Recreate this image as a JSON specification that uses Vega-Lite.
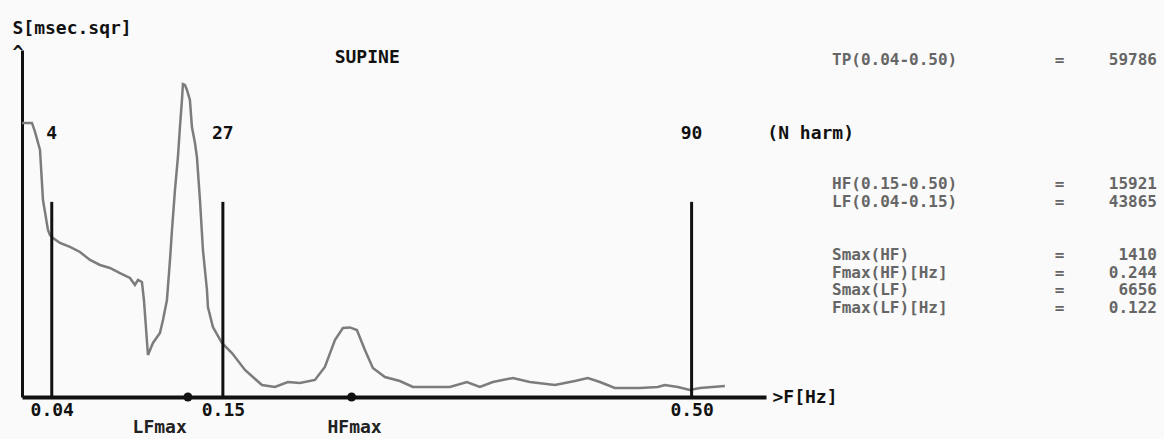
{
  "$schema": "https://vega.github.io/schema/vega-lite/v6.json",
  "width": 744,
  "height": 347,
  "autosize": {"type": "none"},
  "padding": {"left": 22, "top": 50, "right": 398, "bottom": 42},
  "background": "#fafafa",
  "config": {
    "view": {"stroke": null},
    "text": {"font": "DejaVu Sans Mono", "fontSize": 18, "fontWeight": "bold", "baseline": "middle"}
  },
  "layer": [
    {
      "layer": [
        {
          "data": {"values": [
            {"N": 0, "S": 5828}, {"N": 1.34, "S": 5828}, {"N": 1.75, "S": 5637}, {"N": 2.42, "S": 5254},
            {"N": 2.82, "S": 4190}, {"N": 3.49, "S": 3552}, {"N": 3.76, "S": 3446}, {"N": 4.17, "S": 3382},
            {"N": 5.11, "S": 3276}, {"N": 6.45, "S": 3191}, {"N": 7.79, "S": 3084}, {"N": 9.14, "S": 2914},
            {"N": 10.48, "S": 2808}, {"N": 11.82, "S": 2744}, {"N": 13.17, "S": 2637}, {"N": 14.51, "S": 2531},
            {"N": 15.18, "S": 2382}, {"N": 15.59, "S": 2489}, {"N": 16.12, "S": 2446}, {"N": 16.39, "S": 2063},
            {"N": 16.93, "S": 893}, {"N": 17.6, "S": 1149}, {"N": 18.54, "S": 1361}, {"N": 18.95, "S": 1638},
            {"N": 19.48, "S": 2063}, {"N": 19.89, "S": 2914}, {"N": 20.16, "S": 3552}, {"N": 20.56, "S": 4403},
            {"N": 20.96, "S": 5105}, {"N": 21.23, "S": 5743}, {"N": 21.5, "S": 6317}, {"N": 21.63, "S": 6656},
            {"N": 21.9, "S": 6636}, {"N": 22.17, "S": 6530}, {"N": 22.57, "S": 6317}, {"N": 22.84, "S": 5743},
            {"N": 23.25, "S": 5403}, {"N": 23.51, "S": 5105}, {"N": 23.92, "S": 4190}, {"N": 24.32, "S": 3127},
            {"N": 24.86, "S": 2276}, {"N": 24.99, "S": 1914}, {"N": 25.66, "S": 1489}, {"N": 26.87, "S": 1149},
            {"N": 28.22, "S": 936}, {"N": 29.97, "S": 574}, {"N": 32.25, "S": 255}, {"N": 33.99, "S": 213},
            {"N": 35.74, "S": 319}, {"N": 37.35, "S": 298}, {"N": 39.37, "S": 362}, {"N": 40.71, "S": 638},
            {"N": 42.06, "S": 1212}, {"N": 43.13, "S": 1468}, {"N": 44.07, "S": 1480}, {"N": 45.01, "S": 1425},
            {"N": 46.09, "S": 1000}, {"N": 47.16, "S": 617}, {"N": 48.78, "S": 425}, {"N": 50.79, "S": 340},
            {"N": 52.54, "S": 213}, {"N": 57.51, "S": 213}, {"N": 59.8, "S": 319}, {"N": 61.54, "S": 213},
            {"N": 63.29, "S": 319}, {"N": 65.98, "S": 404}, {"N": 68.26, "S": 319}, {"N": 71.63, "S": 255},
            {"N": 74.31, "S": 340}, {"N": 76.06, "S": 404}, {"N": 77.67, "S": 319}, {"N": 79.68, "S": 191},
            {"N": 83.04, "S": 191}, {"N": 85.46, "S": 213}, {"N": 86.4, "S": 255}, {"N": 88.15, "S": 213},
            {"N": 89.76, "S": 149}, {"N": 91.11, "S": 191}, {"N": 94.47, "S": 234}
          ]},
          "mark": {"type": "line", "color": "#7c7c7c", "strokeWidth": 2.5, "interpolate": "linear"},
          "encoding": {
            "x": {
              "field": "N", "type": "quantitative",
              "scale": {"domain": [0, 100], "nice": false, "zero": false},
              "axis": {
                "title": ">F[Hz]", "values": [4, 27, 90],
                "labelExpr": "datum.value == 4 ? '0.04' : datum.value == 27 ? '0.15' : '0.50'",
                "ticks": false, "grid": false, "domainColor": "#111", "domainWidth": 4,
                "labelFont": "DejaVu Sans Mono", "labelFontSize": 18, "labelFontWeight": "bold", "labelColor": "#111",
                "labelBaseline": "middle", "labelPadding": 13, "labelFlush": false, "labelOverlap": false,
                "titleFont": "DejaVu Sans Mono", "titleFontSize": 18, "titleFontWeight": "bold", "titleColor": "#111",
                "titleX": 750, "titleY": 0, "titleAlign": "left", "titleBaseline": "middle"
              }
            },
            "y": {
              "field": "S", "type": "quantitative",
              "scale": {"domain": [0, 7380], "nice": false},
              "axis": {
                "title": ["S[msec.sqr]", "^"], "ticks": false, "labels": false, "grid": false,
                "domainColor": "#111", "domainWidth": 3,
                "titleFont": "DejaVu Sans Mono", "titleFontSize": 18, "titleFontWeight": "bold", "titleColor": "#111",
                "titleAngle": 0, "titleAlign": "left", "titleBaseline": "middle",
                "titleX": -10, "titleY": -22, "titleLineHeight": 24
              }
            }
          }
        },
        {
          "data": {"values": [{"N": 4, "harm": "4"}, {"N": 27, "harm": "27"}, {"N": 90, "harm": "90"}]},
          "layer": [
            {
              "mark": {"type": "rule", "color": "#111", "strokeWidth": 3},
              "encoding": {
                "x": {"field": "N", "type": "quantitative"},
                "y": {"datum": 0, "type": "quantitative"},
                "y2": {"datum": 4150}
              }
            },
            {
              "mark": {"type": "text", "color": "#111", "align": "center"},
              "encoding": {
                "x": {"field": "N", "type": "quantitative"},
                "y": {"datum": 5590, "type": "quantitative"},
                "text": {"field": "harm"}
              }
            }
          ]
        },
        {
          "data": {"values": [{"N": 22.3, "peak": "LF"}, {"N": 44.3, "peak": "HF"}]},
          "mark": {"type": "point", "filled": true, "color": "#111", "size": 80, "opacity": 1},
          "encoding": {
            "x": {"field": "N", "type": "quantitative"},
            "y": {"datum": 0, "type": "quantitative"}
          }
        },
        {
          "data": {"values": [{"N": 18.5, "name": "LFmax"}, {"N": 44.7, "name": "HFmax"}]},
          "mark": {"type": "text", "color": "#222", "align": "center"},
          "encoding": {
            "x": {"field": "N", "type": "quantitative"},
            "y": {"datum": -660, "type": "quantitative"},
            "text": {"field": "name"}
          }
        },
        {
          "data": {"values": [{"note": "(N harm)"}]},
          "mark": {"type": "text", "color": "#111", "align": "center"},
          "encoding": {
            "x": {"datum": 106, "type": "quantitative"},
            "y": {"datum": 5590, "type": "quantitative"},
            "text": {"field": "note"}
          }
        },
        {
          "data": {"values": [{"position": "SUPINE"}]},
          "mark": {"type": "text", "color": "#111", "align": "center"},
          "encoding": {
            "x": {"datum": 46.4, "type": "quantitative"},
            "y": {"datum": 7210, "type": "quantitative"},
            "text": {"field": "position"}
          }
        }
      ]
    },
    {
      "data": {"values": [
        {"line": 0, "label": "TP(0.04-0.50)", "value": "59786"},
        {"line": 7, "label": "HF(0.15-0.50)", "value": "15921"},
        {"line": 8, "label": "LF(0.04-0.15)", "value": "43865"},
        {"line": 11, "label": "Smax(HF)", "value": "1410"},
        {"line": 12, "label": "Fmax(HF)[Hz]", "value": "0.244"},
        {"line": 13, "label": "Smax(LF)", "value": "6656"},
        {"line": 14, "label": "Fmax(LF)[Hz]", "value": "0.122"}
      ]},
      "layer": [
        {
          "mark": {"type": "text", "color": "#666", "align": "left", "fontSize": 16},
          "encoding": {
            "x": {"datum": 0, "type": "quantitative", "scale": {"domain": [0, 1], "range": [810, 1135]}, "axis": null},
            "y": {"field": "line", "type": "quantitative", "scale": {"domain": [0, 14], "range": [10, 258]}, "axis": null},
            "text": {"field": "label"}
          }
        },
        {
          "mark": {"type": "text", "color": "#666", "align": "center", "fontSize": 16, "text": "="},
          "encoding": {
            "x": {"datum": 0.7, "type": "quantitative", "scale": {"domain": [0, 1], "range": [810, 1135]}, "axis": null},
            "y": {"field": "line", "type": "quantitative", "scale": {"domain": [0, 14], "range": [10, 258]}, "axis": null}
          }
        },
        {
          "mark": {"type": "text", "color": "#666", "align": "right", "fontSize": 16},
          "encoding": {
            "x": {"datum": 1, "type": "quantitative", "scale": {"domain": [0, 1], "range": [810, 1135]}, "axis": null},
            "y": {"field": "line", "type": "quantitative", "scale": {"domain": [0, 14], "range": [10, 258]}, "axis": null},
            "text": {"field": "value"}
          }
        }
      ]
    }
  ],
  "resolve": {"scale": {"x": "independent", "y": "independent"}}
}
